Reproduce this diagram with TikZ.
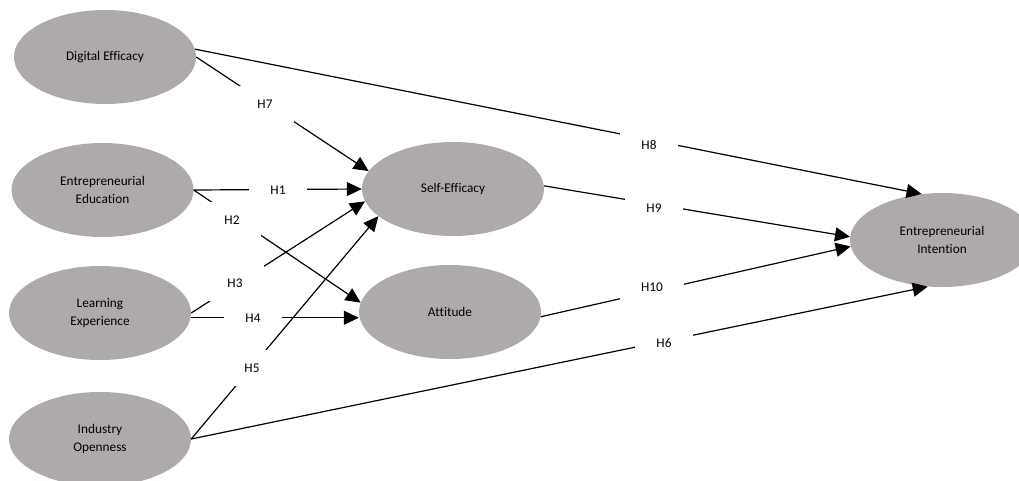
\documentclass[tikz,border=0pt]{standalone}
\usepackage{fontspec}
\setmainfont{Carlito}[Ligatures={NoCommon}]
\usetikzlibrary{shapes.geometric,arrows.meta}
\definecolor{bubble}{RGB}{174,170,170}
\begin{document}
\begin{tikzpicture}[x=1pt,y=-1pt,
  every node/.style={font=\fontsize{13.3}{17.5}\selectfont},
  construct/.style={ellipse,fill=bubble,minimum width=182pt,minimum height=94pt,inner sep=0pt,align=center},
  conn/.style={line width=1.2pt,-{Triangle[length=15pt,width=14pt]}},
  lbl/.style={fill=white,inner xsep=21pt,inner ysep=0pt,minimum height=36pt}]
\useasboundingbox (0,0) rectangle (1019,480);
% constructs
\node[construct] (de) at (105,57) {Digital Efficacy};
\node[construct] (ee) at (102.5,190) {Entrepreneurial\\Education};
\node[construct] (le) at (100,313) {Learning\\Experience};
\node[construct] (io) at (100,439) {Industry\\Openness};
\node[construct] (se) at (453,189) {Self-Efficacy};
\node[construct] (at) at (450,312) {Attitude};
\node[construct,minimum width=184pt] (ei) at (942,240) {Entrepreneurial\\Intention};
% hypotheses
\draw[conn] (ee.east) -- (se.west);
\node[lbl] (h1) at (278,190) {H1};
\draw[conn] (ee.east) -- (at.174.9);
\node[lbl] (h2) at (232,220) {H2};
\draw[conn] (le.east) -- (se.188.4);
\node[lbl] (h3) at (235,283) {H3};
\draw[conn] (le.-3) -- (le.-3 -| at.west);
\node[lbl] (h4) at (253,318) {H4};
\draw[conn] (io.east) -- (se.200);
\node[lbl] (h5) at (252,368) {H5};
\draw[conn] (io.east) -- (ei.253);
\node[lbl] (h6) at (664,343) {H6};
\draw[conn] (de.east) -- (se.168.8);
\node[lbl] (h7) at (265,104) {H7};
\draw[conn] (de.5.25) -- (ei.114);
\node[lbl] (h8) at (649,145) {H8};
\draw[conn] (se.2.6) -- (ei.178.1);
\node[lbl] (h9) at (654,208) {H9};
\draw[conn] (at.-3.5) -- (ei.184.6);
\node[lbl] (h10) at (652,287) {H10};
\end{tikzpicture}
\end{document}
